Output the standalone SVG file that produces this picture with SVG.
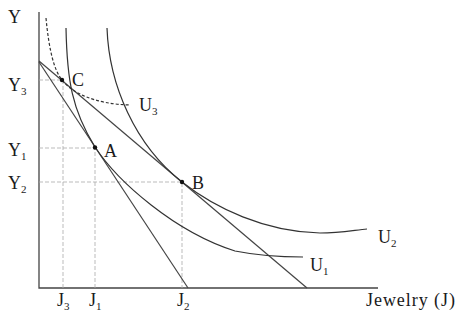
<svg xmlns="http://www.w3.org/2000/svg" width="460" height="320" viewBox="0 0 460 320">
<style>
text{font-family:"Liberation Serif","Times New Roman",serif;font-size:18px;fill:#1a1a1a}
.sub{font-size:11px}
.ax{stroke:#444;stroke-width:1.3;fill:none}
.bl{stroke:#444;stroke-width:1.2;fill:none}
.ic{stroke:#333;stroke-width:1.2;fill:none}
.dash{stroke:#333;stroke-width:1.2;fill:none;stroke-dasharray:3 2}
.guide{stroke:#aaa;stroke-width:0.8;fill:none;stroke-dasharray:4 2}
.dot{fill:#111}
</style>
<rect width="460" height="320" fill="#fff"/>
<g id="axes">
<path class="ax" d="M39,12 V288 H378"/>
<text x="8" y="23">Y</text>
<text x="366" y="306" textLength="89" lengthAdjust="spacing">Jewelry (J)</text>
</g>
<g id="guides">
<path class="guide" d="M39,80 H62 M63,80 V288"/>
<path class="guide" d="M39,148 H95 V288"/>
<path class="guide" d="M39,182 H182 V288"/>
<text x="8" y="91">Y<tspan class="sub" dy="4">3</tspan></text>
<text x="8" y="156">Y<tspan class="sub" dy="4">1</tspan></text>
<text x="8" y="189">Y<tspan class="sub" dy="4">2</tspan></text>
<text x="57" y="306">J<tspan class="sub" dy="4">3</tspan></text>
<text x="89" y="306">J<tspan class="sub" dy="4">1</tspan></text>
<text x="177" y="306">J<tspan class="sub" dy="4">2</tspan></text>
</g>
<g id="connectors">
<path id="budget1" class="bl" d="M39,62 L188,288"/>
<path id="budget2" class="bl" d="M39,61 L307,288"/>
</g>
<g id="U1">
<path class="ic" d="M66,28 C67,80 72,110 95,147 C118,182 175,232 235,251 C260,256 285,257 303,257"/>
<text x="310" y="271">U<tspan class="sub" dy="4">1</tspan></text>
</g>
<g id="U2">
<path class="ic" d="M107,28 C109,85 135,145 182,182 C215,208 265,232 320,233 C340,233 355,230 367,229"/>
<text x="378" y="243">U<tspan class="sub" dy="4">2</tspan></text>
</g>
<g id="U3">
<path class="dash" d="M46,18 C49,50 54,70 62,80 C72,93 95,104 130,105"/>
<text x="139" y="111">U<tspan class="sub" dy="4">3</tspan></text>
</g>
<g id="C">
<circle class="dot" cx="62" cy="80" r="2.2"/>
<text x="72" y="86">C</text>
</g>
<g id="A">
<circle class="dot" cx="95" cy="147.5" r="2.2"/>
<text x="104" y="157">A</text>
</g>
<g id="B">
<circle class="dot" cx="182" cy="182" r="2.2"/>
<text x="192" y="189">B</text>
</g>
</svg>
